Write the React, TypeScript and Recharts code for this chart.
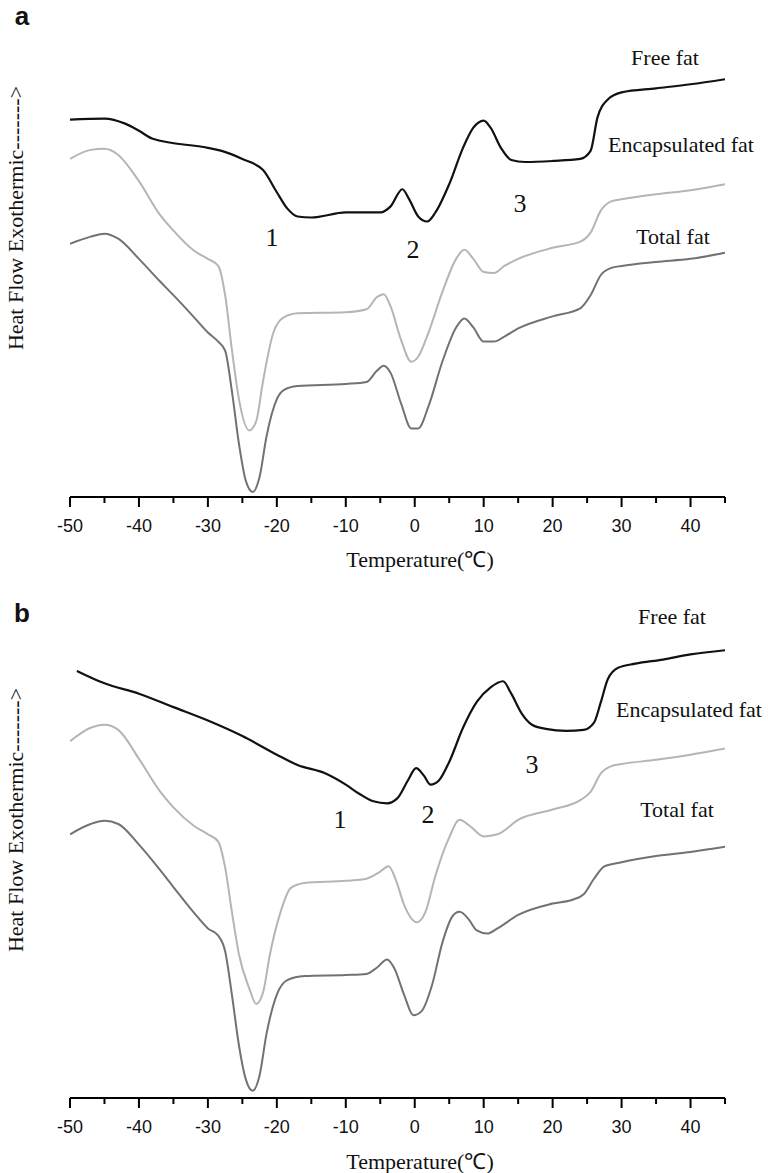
import { LineChart, Line, XAxis, YAxis } from 'recharts'

// temperatures (°C) and heat-flow heights (arbitrary units)
const freeA_T = [-50, -45, -42, -40, -38, -30, -28, -25, -22, -20, -18.5, -17, -15, -10, -5, -3.5, -1.8, -0.8, 0.5, 1.8, 3, 5, 7, 8.5, 10, 11, 12.5, 14, 16, 20, 24, 25.5, 26.5, 28, 30, 35, 40, 45]
const freeA_H = [374, 375, 370, 363, 355, 346, 343, 335, 324, 302, 286, 278, 277, 282, 282, 288, 305, 295, 278, 273, 282, 310, 346, 366, 373, 366, 346, 334, 332, 333, 335, 343, 376, 394, 401, 405, 409, 414]

const encA_T = [-50, -47, -45, -43, -40, -37, -35, -32, -30, -28.5, -27.5, -26.5, -25.5, -24, -23, -22, -20.5, -19, -17, -10, -7, -5.5, -4.5, -3.5, -2, -0.5, 0.5, 2, 4, 6, 7.2, 8.5, 10, 11.5, 13, 15, 20, 24, 25.5, 27, 28.5, 30, 35, 40, 45]
const encA_H = [335, 344, 345, 339, 313, 280, 264, 244, 236, 229, 200, 145, 97, 66, 75, 115, 163, 178, 182, 183, 186, 198, 201, 189, 156, 134, 139, 163, 203, 236, 245, 236, 223, 222, 229, 236, 247, 253, 262, 284, 293, 295, 300, 304, 310]

const totA_T = [-50, -47, -45, -43, -40, -37, -35, -32, -30, -28.5, -27.5, -26.5, -25.5, -24.5, -23.5, -22.5, -21.5, -20, -19, -17, -10, -7, -5.5, -4.5, -3.5, -2, -0.5, 0.5, 2, 4, 6, 7.2, 8.5, 10, 11.5, 13, 15, 20, 24, 25.5, 27, 28.5, 30, 35, 40, 45]
const totA_H = [251, 258, 261, 256, 236, 214, 200, 178, 163, 154, 145, 104, 53, 16, 5, 20, 60, 97, 106, 110, 112, 114, 125, 130, 123, 93, 68, 68, 90, 134, 168, 177, 168, 154, 154, 159, 167, 179, 187, 200, 220, 227, 229, 233, 236, 242]

const freeB_T = [-49, -45, -40, -35, -30, -25, -20, -17, -13, -10, -8, -6, -4, -2.5, -1, 0.2, 1.3, 2.3, 3.5, 5, 7, 9, 11, 12.8, 14, 15.5, 17, 19, 22, 24.5, 26, 27, 28, 29.5, 32, 36, 40, 45]
const freeB_H = [413, 401, 391, 378, 365, 350, 332, 322, 314, 303, 294, 287, 285, 290, 307, 319, 312, 303, 307, 325, 358, 383, 397, 403, 391, 372, 361, 357, 355, 356, 363, 383, 405, 416, 420, 424, 429, 433]

const encB_T = [-50, -47, -45, -43, -40, -37, -35, -32, -30, -28.5, -27.5, -26.5, -25.5, -24, -23, -22, -21, -19.5, -18, -16, -10, -7, -5, -3.8, -2.8, -1.5, 0.3, 1.5, 3, 5, 6.5, 8, 10, 12, 15, 20, 24, 25.5, 27, 28.5, 30, 35, 40, 45]
const encB_H = [345, 358, 361, 356, 328, 297, 281, 263, 255, 248, 223, 179, 139, 106, 91, 102, 139, 179, 203, 208, 210, 212, 219, 224, 212, 186, 170, 179, 215, 252, 269, 263, 253, 255, 269, 279, 288, 296, 314, 321, 323, 327, 332, 338]

const totB_T = [-50, -47, -45, -43, -40, -37, -35, -32, -30, -28.5, -27.5, -26.5, -25.5, -24.5, -23.5, -22.5, -21.5, -20, -18.5, -16, -10, -7, -5.5, -4, -3, -1.5, -0.2, 1, 2.5, 4, 5.5, 6.5, 7.8, 9, 10.5, 12, 15, 20, 23, 24.5, 26, 27.5, 30, 35, 40, 45]
const totB_H = [255, 265, 268, 265, 245, 221, 204, 179, 164, 157, 142, 99, 51, 18, 7, 22, 62, 100, 114, 118, 119, 120, 126, 134, 126, 99, 80, 84, 109, 150, 176, 180, 173, 162, 159, 164, 177, 188, 192, 197, 212, 224, 228, 234, 238, 243]

const X_TICKS = [-50, -45, -40, -35, -30, -25, -20, -15, -10, -5, 0, 5, 10, 15, 20, 25, 30, 35, 40, 45]
const X_LABELS = [-50, -40, -30, -20, -10, 0, 10, 20, 30, 40]

const SERIF = '"Liberation Serif", "Times New Roman", serif'
const SANS = '"Liberation Sans", Arial, sans-serif'

const toPoints = (ts: number[], hs: number[]) => ts.map((t, i) => ({ t, h: hs[i] }))

function AxisTick({ x, y, payload }: any) {
  const v = payload.value
  const major = X_LABELS.includes(v)
  return (
    <g>
      <line x1={x} x2={x} y1={y} y2={y + (major ? 10 : 6)} stroke="#000" strokeWidth={2} />
      {major && (
        <text x={x} y={y + 35} textAnchor="middle" fontFamily={SANS} fontSize={18} fill="#111">
          {v}
        </text>
      )}
    </g>
  )
}

interface Label {
  text: string
  x: number
  y: number
  size?: number
  bold?: boolean
  sans?: boolean
}

function Txt({ text, x, y, size = 22, bold, sans }: Label) {
  return (
    <div
      style={{
        position: 'absolute',
        left: x,
        top: y,
        transform: 'translate(-50%, -50%)',
        fontFamily: sans ? SANS : SERIF,
        fontSize: size,
        fontWeight: bold ? 700 : 400,
        whiteSpace: 'nowrap',
        lineHeight: 1,
        color: '#111',
      }}
    >
      {text}
    </div>
  )
}

function Panel({ top, height, margin, free, enc, tot, letter, labels }: any) {
  return (
    <div style={{ position: 'absolute', left: 0, top, width: 768, height }}>
      <LineChart width={768} height={height} margin={margin}>
        <XAxis
          type="number"
          dataKey="t"
          domain={[-50, 45]}
          ticks={X_TICKS}
          interval={0}
          allowDataOverflow
          height={40}
          tickSize={0}
          tickMargin={0}
          tickLine={false}
          axisLine={{ stroke: '#000', strokeWidth: 2 }}
          tick={<AxisTick />}
        />
        <YAxis hide type="number" domain={[0, 440]} allowDataOverflow />
        <Line data={free} dataKey="h" type="monotone" stroke="#111" strokeWidth={2.2} dot={false} isAnimationActive={false} />
        <Line data={enc} dataKey="h" type="monotone" stroke="#b5b5b5" strokeWidth={2} dot={false} isAnimationActive={false} />
        <Line data={tot} dataKey="h" type="monotone" stroke="#727272" strokeWidth={2} dot={false} isAnimationActive={false} />
      </LineChart>
      <Txt text={letter} x={22} y={labels.letterY} size={26} bold sans />
      <div
        style={{
          position: 'absolute',
          left: 16,
          top: labels.yLabel,
          transform: 'translate(-50%, -50%) rotate(-90deg)',
          fontFamily: SERIF,
          fontSize: 22,
          whiteSpace: 'nowrap',
          lineHeight: 1,
          color: '#111',
        }}
      >
        Heat Flow Exothermic-------&gt;
      </div>
      {labels.items.map((l: Label) => (
        <Txt key={l.text + l.x} {...l} />
      ))}
      <Txt text="Temperature(℃)" x={420} y={labels.xLabel} size={22} />
    </div>
  )
}

const labelsA = {
  letterY: 16,
  yLabel: 218,
  xLabel: 560,
  items: [
    { text: 'Free fat', x: 665, y: 58 },
    { text: 'Encapsulated fat', x: 681, y: 145 },
    { text: 'Total fat', x: 673, y: 237 },
    { text: '1', x: 272, y: 238, size: 26 },
    { text: '2', x: 413, y: 250, size: 26 },
    { text: '3', x: 520, y: 204, size: 26 },
  ],
}

const labelsB = {
  letterY: 25,
  yLabel: 232,
  xLabel: 574,
  items: [
    { text: 'Free fat', x: 672, y: 29 },
    { text: 'Encapsulated fat', x: 689, y: 122 },
    { text: 'Total fat', x: 677, y: 222 },
    { text: '1', x: 340, y: 232, size: 26 },
    { text: '2', x: 428, y: 227, size: 26 },
    { text: '3', x: 532, y: 177, size: 26 },
  ],
}

export default function App() {
  return (
    <div style={{ position: 'absolute', left: 0, top: 0, width: 768, height: 1173, background: '#fff' }}>
      <Panel
        top={0}
        height={588}
        margin={{ top: 53, right: 43, bottom: 51, left: 70 }}
        letter="a"
        free={toPoints(freeA_T, freeA_H)}
        enc={toPoints(encA_T, encA_H)}
        tot={toPoints(totA_T, totA_H)}
        labels={labelsA}
      />
      <Panel
        top={588}
        height={585}
        margin={{ top: 55, right: 43, bottom: 35, left: 70 }}
        letter="b"
        free={toPoints(freeB_T, freeB_H)}
        enc={toPoints(encB_T, encB_H)}
        tot={toPoints(totB_T, totB_H)}
        labels={labelsB}
      />
    </div>
  )
}
